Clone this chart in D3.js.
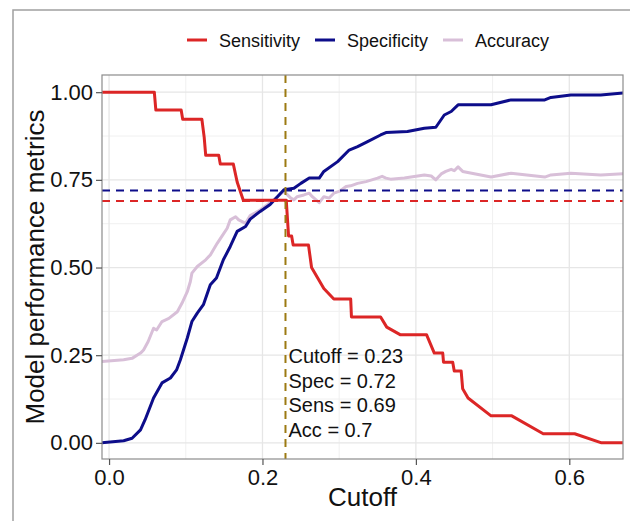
<!DOCTYPE html>
<html>
<head>
<meta charset="utf-8">
<script src="https://cdn.jsdelivr.net/npm/d3@7"></script>
<style>
  body { margin: 0; background: #fff; }
  svg { font-family: "Liberation Sans", Arial, Helvetica, sans-serif; }
</style>
</head>
<body>
<div id="chart"></div>
<script>
// cutoff, value pairs
const sensitivity = [
  [-0.01, 1.0], [0.059, 1.0], [0.061, 0.949], [0.094, 0.949], [0.096, 0.923],
  [0.121, 0.923], [0.124, 0.872], [0.126, 0.82], [0.143, 0.82], [0.145, 0.795],
  [0.162, 0.795], [0.167, 0.744], [0.175, 0.692], [0.231, 0.692], [0.234, 0.59],
  [0.238, 0.59], [0.240, 0.564], [0.260, 0.564], [0.264, 0.50], [0.272, 0.47],
  [0.280, 0.44], [0.293, 0.41], [0.315, 0.41], [0.316, 0.359], [0.354, 0.359],
  [0.362, 0.33], [0.380, 0.308], [0.414, 0.308], [0.424, 0.256], [0.435, 0.256],
  [0.436, 0.23], [0.448, 0.23], [0.450, 0.205], [0.459, 0.205], [0.461, 0.154],
  [0.468, 0.128], [0.498, 0.077], [0.525, 0.077], [0.566, 0.026], [0.607, 0.026],
  [0.642, 0.0], [0.68, 0.0]
];
const specificity = [
  [-0.01, 0.0], [0.019, 0.006], [0.030, 0.013], [0.041, 0.037], [0.047, 0.066],
  [0.058, 0.128], [0.069, 0.171], [0.080, 0.185], [0.088, 0.208], [0.093, 0.237],
  [0.102, 0.299], [0.108, 0.346], [0.115, 0.370], [0.123, 0.394], [0.132, 0.451],
  [0.140, 0.47], [0.149, 0.522], [0.158, 0.560], [0.167, 0.603], [0.178, 0.617],
  [0.184, 0.638], [0.197, 0.66], [0.210, 0.68], [0.228, 0.722], [0.241, 0.726],
  [0.250, 0.740], [0.261, 0.755], [0.274, 0.755], [0.280, 0.774], [0.298, 0.802],
  [0.313, 0.835], [0.324, 0.845], [0.337, 0.859], [0.354, 0.878], [0.361, 0.885],
  [0.389, 0.888], [0.411, 0.897], [0.426, 0.900], [0.437, 0.935], [0.446, 0.945],
  [0.455, 0.964], [0.498, 0.964], [0.524, 0.978], [0.568, 0.978], [0.576, 0.985],
  [0.602, 0.992], [0.641, 0.992], [0.68, 1.0]
];
const accuracy = [
  [-0.01, 0.232], [0.019, 0.237], [0.030, 0.241], [0.041, 0.256], [0.045, 0.265],
  [0.051, 0.289], [0.058, 0.327], [0.062, 0.322], [0.069, 0.346], [0.078, 0.355],
  [0.089, 0.374], [0.095, 0.398], [0.102, 0.431], [0.106, 0.460], [0.108, 0.484],
  [0.115, 0.503], [0.126, 0.522], [0.132, 0.536], [0.141, 0.569], [0.147, 0.589],
  [0.154, 0.612], [0.158, 0.636], [0.165, 0.645], [0.169, 0.636], [0.178, 0.626],
  [0.184, 0.648], [0.197, 0.664], [0.210, 0.685], [0.228, 0.717], [0.237, 0.698],
  [0.241, 0.693], [0.245, 0.702], [0.254, 0.707], [0.261, 0.712], [0.265, 0.702],
  [0.274, 0.685], [0.280, 0.702], [0.287, 0.698], [0.293, 0.712], [0.300, 0.717],
  [0.309, 0.731], [0.315, 0.733], [0.324, 0.740], [0.335, 0.745], [0.350, 0.755],
  [0.356, 0.760], [0.361, 0.755], [0.367, 0.752], [0.385, 0.755], [0.411, 0.764],
  [0.420, 0.761], [0.426, 0.750], [0.433, 0.767], [0.439, 0.774], [0.446, 0.780],
  [0.450, 0.776], [0.455, 0.787], [0.461, 0.774], [0.498, 0.758], [0.524, 0.769],
  [0.568, 0.758], [0.576, 0.764], [0.602, 0.769], [0.641, 0.764], [0.68, 0.769]
];

const seriesNames = ["Sensitivity", "Specificity", "Accuracy"];
const seriesColors = ["#dc2626", "#0d0d8a", "#d8bfd8"];
const xTicks = [0.0, 0.2, 0.4, 0.6];
const yTicks = [0.0, 0.25, 0.5, 0.75, 1.0];
const cutoff = 0.23, specAtCut = 0.72, sensAtCut = 0.69, accAtCut = 0.7;
const labelLines = ["Cutoff = 0.23", "Spec = 0.72", "Sens = 0.69", "Acc = 0.7"];

const W = 630, H = 521;
const panel = { left: 102, right: 623, top: 75, bottom: 459 };

const svg = d3.select("#chart").append("svg")
  .attr("width", W).attr("height", H);

// outer frame
svg.append("rect")
  .attr("x", 13).attr("y", 10).attr("width", W + 20).attr("height", H + 20)
  .attr("fill", "none").attr("stroke", "#a0a0a0").attr("stroke-width", 1.5);

const x = d3.scaleLinear().domain([-0.0092, 0.67]).range([panel.left, panel.right]);
const y = d3.scaleLinear().domain([-0.046, 1.049]).range([panel.bottom, panel.top]);

// grid
const grid = svg.append("g");
const xMinor = [0.1, 0.3, 0.5];
const yMinor = [0.125, 0.375, 0.625, 0.875];
grid.selectAll(".xmin").data(xMinor).join("line")
  .attr("x1", d => x(d)).attr("x2", d => x(d))
  .attr("y1", panel.top).attr("y2", panel.bottom)
  .attr("stroke", "#f0f0f0").attr("stroke-width", 1);
grid.selectAll(".ymin").data(yMinor).join("line")
  .attr("y1", d => y(d)).attr("y2", d => y(d))
  .attr("x1", panel.left).attr("x2", panel.right)
  .attr("stroke", "#f0f0f0").attr("stroke-width", 1);
grid.selectAll(".xmaj").data(xTicks).join("line")
  .attr("x1", d => x(d)).attr("x2", d => x(d))
  .attr("y1", panel.top).attr("y2", panel.bottom)
  .attr("stroke", "#e6e6e6").attr("stroke-width", 1.3);
grid.selectAll(".ymaj").data(yTicks).join("line")
  .attr("y1", d => y(d)).attr("y2", d => y(d))
  .attr("x1", panel.left).attr("x2", panel.right)
  .attr("stroke", "#e6e6e6").attr("stroke-width", 1.3);

// clip for curves
svg.append("clipPath").attr("id", "clip")
  .append("rect")
  .attr("x", panel.left).attr("y", panel.top)
  .attr("width", panel.right - panel.left).attr("height", panel.bottom - panel.top);

const plot = svg.append("g").attr("clip-path", "url(#clip)");
const line = d3.line().x(d => x(d[0])).y(d => y(d[1]));

const allSeries = [sensitivity, specificity, accuracy];
// draw accuracy underneath, then specificity, then sensitivity
[2, 1, 0].forEach(i => {
  plot.append("path")
    .datum(allSeries[i])
    .attr("d", line)
    .attr("fill", "none")
    .attr("stroke", seriesColors[i])
    .attr("stroke-width", 3)
    .attr("stroke-linejoin", "round");
});

// reference lines
plot.append("line")
  .attr("x1", panel.left).attr("x2", panel.right)
  .attr("y1", y(specAtCut)).attr("y2", y(specAtCut))
  .attr("stroke", seriesColors[1]).attr("stroke-width", 2)
  .attr("stroke-dasharray", "8,6");
plot.append("line")
  .attr("x1", panel.left).attr("x2", panel.right)
  .attr("y1", y(sensAtCut)).attr("y2", y(sensAtCut))
  .attr("stroke", seriesColors[0]).attr("stroke-width", 2)
  .attr("stroke-dasharray", "8,6");
plot.append("line")
  .attr("x1", x(cutoff)).attr("x2", x(cutoff))
  .attr("y1", panel.top).attr("y2", panel.bottom)
  .attr("stroke", "#9c7a12").attr("stroke-width", 2)
  .attr("stroke-dasharray", "8,6");

// annotation
svg.append("g").selectAll("text").data(labelLines).join("text")
  .attr("x", x(cutoff) + 3)
  .attr("y", (d, i) => 363 + i * 24.7)
  .attr("font-size", 20)
  .attr("fill", "#111")
  .text(d => d);

// panel border
svg.append("rect")
  .attr("x", panel.left).attr("y", panel.top)
  .attr("width", panel.right - panel.left).attr("height", panel.bottom - panel.top)
  .attr("fill", "none").attr("stroke", "#8c8c8c").attr("stroke-width", 1.2);

// axes
const xAxis = svg.append("g")
  .attr("transform", `translate(0,${panel.bottom})`)
  .call(d3.axisBottom(x).tickValues(xTicks).tickFormat(d3.format(".1f")).tickSize(6).tickPadding(4));
const yAxis = svg.append("g")
  .attr("transform", `translate(${panel.left},0)`)
  .call(d3.axisLeft(y).tickValues(yTicks).tickFormat(d3.format(".2f")).tickSize(6).tickPadding(3));
[xAxis, yAxis].forEach(a => {
  a.select(".domain").remove();
  a.selectAll(".tick line").attr("stroke", "#555").attr("stroke-width", 1.2);
  a.selectAll(".tick text")
    .attr("font-size", 22)
    .attr("fill", "#111")
    .attr("font-family", "'Liberation Sans', Arial, sans-serif");
});

// axis titles
svg.append("text")
  .attr("x", (panel.left + panel.right) / 2)
  .attr("y", 506)
  .attr("text-anchor", "middle")
  .attr("font-size", 26)
  .attr("fill", "#111")
  .text("Cutoff");
svg.append("text")
  .attr("transform", `translate(44,${(panel.top + panel.bottom) / 2}) rotate(-90)`)
  .attr("text-anchor", "middle")
  .attr("font-size", 26)
  .attr("fill", "#111")
  .text("Model performance metrics");

// legend
const legendX = [187, 315, 443];
const legend = svg.append("g").selectAll("g").data(seriesNames).join("g")
  .attr("transform", (d, i) => `translate(${legendX[i]},40)`);
legend.append("line")
  .attr("x1", 0).attr("x2", 20).attr("y1", 0).attr("y2", 0)
  .attr("stroke", (d, i) => seriesColors[i]).attr("stroke-width", 3);
legend.append("text")
  .attr("x", 32).attr("y", 6.5)
  .attr("font-size", 18)
  .attr("fill", "#111")
  .text(d => d);
</script>
</body>
</html>
